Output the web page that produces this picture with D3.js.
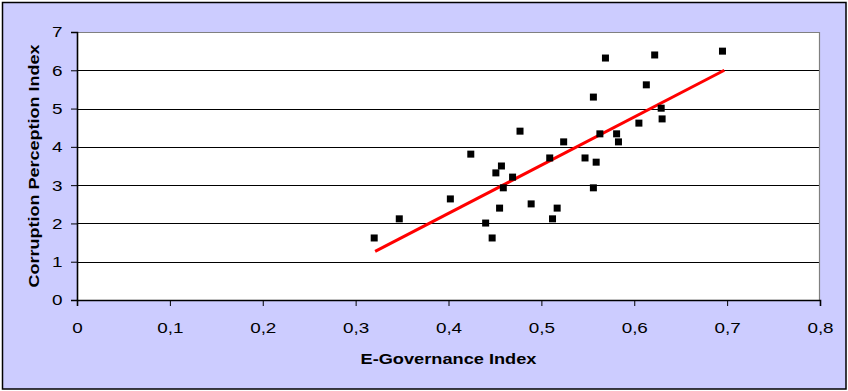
<!DOCTYPE html>
<html><head><meta charset="utf-8">
<script src="https://cdn.jsdelivr.net/npm/d3@7"></script>
<style>html,body{margin:0;padding:0;background:#fff;}svg{display:block;font-family:"Liberation Sans",Arial,sans-serif;}</style>
</head><body>
<svg id="c" width="848" height="391"></svg>
<script>
const eGov = [0.320,0.347,0.402,0.424,0.440,0.447,0.451,0.455,0.457,0.459,0.469,0.477,0.489,0.509,0.512,0.517,0.524,0.547,0.556,0.556,0.559,0.563,0.569,0.581,0.583,0.605,0.613,0.622,0.629,0.630,0.695];
const cpi  = [1.62,2.12,2.64,3.81,2.01,1.62,3.32,2.40,3.50,2.93,3.21,4.41,2.51,3.71,2.12,2.40,4.13,3.71,2.93,5.30,3.60,4.34,6.32,4.34,4.13,4.62,5.62,6.40,5.01,4.73,6.50];
const trendX = [0.321,0.697];
const trendY = [1.27,6.00];
const xTicks = [0,0.1,0.2,0.3,0.4,0.5,0.6,0.7,0.8];
const yTicks = [0,1,2,3,4,5,6,7];
const xTitle = "E-Governance Index";
const yTitle = "Corruption Perception Index";

const svg = d3.select("#c");
const L=77, R=820, T=32, B=300;
const SX = 1.22, FS = 15.5;
const x = d3.scaleLinear().domain([0,0.8]).range([L,R]);
const y = d3.scaleLinear().domain([0,7]).range([B,T]);

svg.append("rect").attr("x",2.5).attr("y",2.5).attr("width",843.5).attr("height",386.5)
  .attr("fill","#CCCCFF").attr("stroke","#000").attr("stroke-width",1.5);
svg.append("rect").attr("x",L).attr("y",T).attr("width",R-L).attr("height",B-T).attr("fill","#fff");

// gridlines
svg.append("g").selectAll("line").data(yTicks.filter(d=>d>0&&d<7)).join("line")
  .attr("x1",L).attr("x2",R).attr("y1",d=>Math.round(y(d))+0.5).attr("y2",d=>Math.round(y(d))+0.5)
  .attr("stroke","#000").attr("stroke-width",1);
// top & right frame grey
svg.append("path").attr("d",`M${L},${T+0.5}H${R-0.5}V${B}`).attr("fill","none").attr("stroke","#808080").attr("stroke-width",1.2);

const fmt = d=> d===0?"0":String(d).replace(".",",");
const xa = svg.append("g").attr("transform",`translate(0,${B})`)
  .call(d3.axisBottom(x).tickValues(xTicks).tickFormat(fmt).tickSize(6).tickPadding(16.5));
const ya = svg.append("g").attr("transform",`translate(${L},0)`)
  .call(d3.axisLeft(y).tickValues(yTicks).tickFormat(d=>d).tickSize(6).tickPadding(8.5));
[xa,ya].forEach(a=>{
  a.select(".domain").attr("stroke","#000").attr("stroke-width",1.6);
  a.selectAll(".tick line").attr("stroke","#000").attr("stroke-width",1);
  a.selectAll(".tick text").attr("font-size",FS).attr("fill","#000").attr("font-family","Liberation Sans, Arial, sans-serif");
});
xa.selectAll(".tick text").attr("transform",`scale(${SX},1)`);
ya.selectAll(".tick text").attr("x",-(6+8.5)/SX).attr("transform",`scale(${SX},1)`);

// trend line
svg.append("line").attr("x1",x(trendX[0])).attr("y1",y(trendY[0])).attr("x2",x(trendX[1])).attr("y2",y(trendY[1]))
  .attr("stroke","#FF0000").attr("stroke-width",3);

// points
const pts = eGov.map((v,i)=>({x:v,y:cpi[i]}));
svg.append("g").selectAll("rect").data(pts).join("rect")
  .attr("x",d=>x(d.x)-3.5).attr("y",d=>y(d.y)-3.5).attr("width",7).attr("height",7).attr("fill","#000");

svg.append("text").attr("x",(L+R)/2).attr("y",364).attr("text-anchor","middle")
  .attr("font-size",15).attr("font-weight","bold")
  .attr("textLength",176).attr("lengthAdjust","spacingAndGlyphs").text(xTitle);
svg.append("text").attr("transform",`translate(38.5,${(T+B)/2}) rotate(-90)`).attr("text-anchor","middle")
  .attr("font-size",15.5).attr("font-weight","bold")
  .attr("textLength",243).attr("lengthAdjust","spacingAndGlyphs").text(yTitle);
</script>
</body></html>
